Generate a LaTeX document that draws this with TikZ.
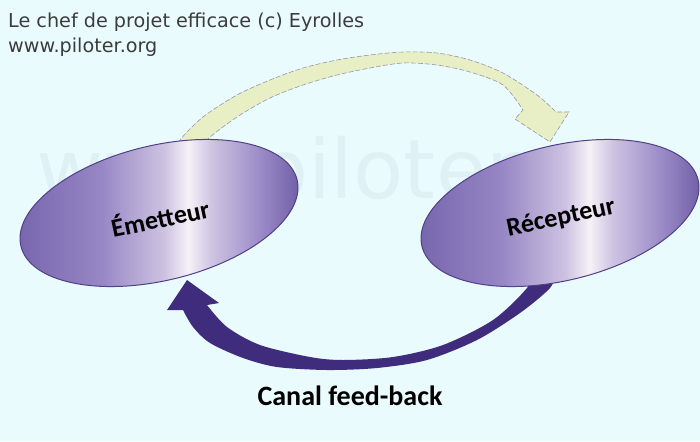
\documentclass[tikz,border=0pt]{standalone}
\usepackage{fontspec}
\setmainfont{Carlito}
\newfontfamily\dejavu{DejaVu Sans}
\usetikzlibrary{shapes.geometric}
\definecolor{bgc}{RGB}{234,251,254}
\definecolor{wmc}{RGB}{224,241,245}
\definecolor{hdr}{RGB}{60,60,60}
\definecolor{yel}{RGB}{233,239,196}
\definecolor{yeldraw}{RGB}{150,150,172}
\definecolor{purp}{RGB}{64,44,124}
\definecolor{ellline}{RGB}{80,64,136}
\definecolor{eA}{RGB}{118,100,172}
\definecolor{eB}{RGB}{150,134,196}
\definecolor{eC}{RGB}{206,195,226}
\definecolor{eH}{RGB}{246,241,247}
\definecolor{eB2}{RGB}{156,141,200}
\definecolor{eD}{RGB}{106,88,162}
\pgfdeclarehorizontalshading{ellshade}{100bp}{color(0bp)=(eA); color(25bp)=(eA); color(40bp)=(eB); color(51bp)=(eC); color(55bp)=(eH); color(59bp)=(eC); color(67bp)=(eB2); color(75bp)=(eD); color(100bp)=(eD)}
\tikzset{
  ellbox/.style={ellipse, minimum width=284pt, minimum height=135pt, inner sep=0pt,
    draw=ellline, line width=1pt, shading=ellshade},
  elltext/.style={font=\fontsize{26}{28}\selectfont\bfseries, text=black, rotate=12, inner sep=0pt},
  hdrtext/.style={font=\dejavu\fontsize{19.2}{21}\selectfont, text=hdr, anchor=base west, inner sep=0pt},
  wmtext/.style={font=\dejavu\fontsize{82}{84}\selectfont, text=wmc, anchor=base west, inner sep=0pt},
  yelarrow/.style={fill=yel, draw=yeldraw, line width=0.6pt, dash pattern=on 5pt off 2pt},
  purparrow/.style={fill=purp}
}
\begin{document}
\begin{tikzpicture}[x=1pt,y=-1pt]
\useasboundingbox (0,0) rectangle (700,441);
\fill[bgc] (0,0) rectangle (700,441);
% watermark
\node[wmtext] (wm) at (36,198) {www.piloter.org};
% header
\node[hdrtext] (h1) at (8,28) {Le chef de projet efficace (c) Eyrolles};
\node[hdrtext] (h2) at (8,53) {www.piloter.org};
% ellipse centres
\coordinate (emc) at (159,213);
\coordinate (rec) at (560,213);
% yellow arrow
\path[yelarrow] plot[smooth] coordinates {(178,150) (180,140) (203,117) (237,95) (270,80) (303,68) (337,60) (370,55) (403,52) (437,53) (470,60) (503,73) (537,95) (556,112)}
  -- (569,112) -- (550,142) -- (515,119) --
  plot[smooth] coordinates {(523,110) (503,85) (470,72) (437,65) (403,63) (370,68) (337,75) (303,85) (270,98) (237,117) (207,140) (209,150)} -- cycle;
% purple arrow
\path[purparrow] plot[smooth] coordinates {(556,272) (550,288) (520,313) (477,340) (427,360) (377,368) (327,370) (277,367) (243,358) (210,343) (193,327) (183,310)}
  -- (167,310) -- (187,280) -- (219,303) --
  plot[smooth] coordinates {(207,305) (227,327) (260,345) (310,357) (343,360) (393,357) (443,345) (493,320) (527,288) (532,272)} -- cycle;
% ellipses
\node[ellbox, rotate=13.5] (em) at (emc) {};
\node[ellbox, rotate=13.5] (re) at (rec) {};
\node[elltext] (emt) at (160,217) {Émetteur};
\node[elltext] (ret) at (561,218) {Récepteur};
% caption
\node[font=\fontsize{28}{30}\selectfont\bfseries, inner sep=0pt] (cap) at (350,396) {Canal feed-back};
\end{tikzpicture}
\end{document}
